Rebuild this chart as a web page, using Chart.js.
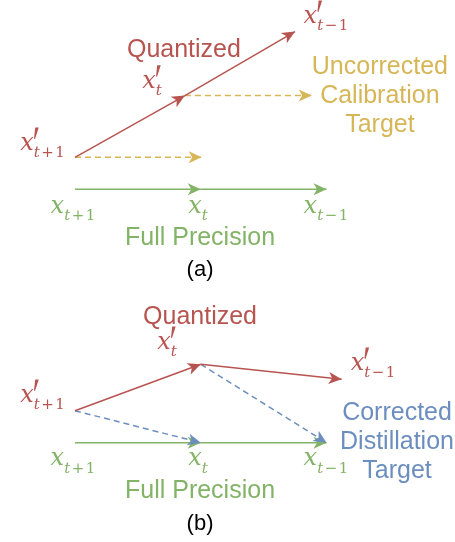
<!DOCTYPE html>
<html>
<head>
<meta charset="utf-8">
<script src="https://cdn.jsdelivr.net/npm/chart.js@4.4.0/dist/chart.umd.min.js"></script>
<style>
  body { margin: 0; background: #fff; }
  .panel { position: relative; width: 455px; }
  #wrap-a { height: 282px; }
  #wrap-b { height: 260px; }
</style>
</head>
<body>
<div class="panel" id="wrap-a"><canvas id="panel-a"></canvas></div>
<div class="panel" id="wrap-b"><canvas id="panel-b"></canvas></div>
<script>
// step positions: x_{t+1} = 0, x_t = 1, x_{t-1} = 2
var stepX = [0, 1, 2];
var fullY = [0, 0, 0];

// (a) quantized trajectory and uncorrected calibration targets
var aQuantX = [0, 0.874, 1.749];
var aQuantY = [1, 2.93, 4.93];
var aCalibEndX = [1.007, 1.882];

// (b) quantized trajectory, corrected targets point at the full precision steps
var bQuantX = [0, 1, 2.12];
var bQuantY = [1, 2.45, 1.98];
var bTargetStep = [1, 2];

var RED = '#b85450', GREEN = '#82b366', YELLOW = '#d6b656', BLUE = '#6c8ebf';
var SANS = '"Liberation Sans", Arial, sans-serif';
var SERIF = '"DejaVu Serif", serif';

function seg(x0, y0, x1, y1, color, dashed) {
  return {
    data: [{x: x0, y: y0}, {x: x1, y: y1}],
    showLine: true,
    borderColor: color,
    borderWidth: 1.5,
    borderDash: dashed ? [6, 4] : [],
    pointRadius: 0,
    clip: false,
    arrow: true
  };
}

function path(xs, ys, color) {
  var out = [];
  for (var i = 1; i < xs.length; i++) out.push(seg(xs[i - 1], ys[i - 1], xs[i], ys[i], color, false));
  return out;
}

var arrowPlugin = {
  id: 'arrows',
  afterDatasetsDraw: function (chart) {
    var ctx = chart.ctx;
    chart.data.datasets.forEach(function (ds, i) {
      if (!ds.arrow) return;
      var pts = chart.getDatasetMeta(i).data;
      var p0 = pts[pts.length - 2], p1 = pts[pts.length - 1];
      var ang = Math.atan2(p1.y - p0.y, p1.x - p0.x);
      ctx.save();
      ctx.translate(p1.x, p1.y);
      ctx.rotate(ang);
      ctx.beginPath();
      ctx.moveTo(0, 0);
      ctx.lineTo(-13, -6);
      ctx.lineTo(-9.5, 0);
      ctx.lineTo(-13, 6);
      ctx.closePath();
      ctx.fillStyle = ds.borderColor;
      ctx.fill();
      ctx.restore();
    });
  }
};

// x with optional prime and a subscript like t+1
function drawMath(ctx, lab, cx, by) {
  var baseFont = 'italic 24px ' + SERIF;
  var itFont = 'italic 15px ' + SERIF;
  var upFont = '15px ' + SERIF;
  ctx.font = baseFont;
  var xw = ctx.measureText('x').width;
  var toks = lab.sub.split('').map(function (c) {
    var op = c === '+' || c === '\u2212';
    ctx.font = (c === 't') ? itFont : upFont;
    return {c: c, font: ctx.font, w: ctx.measureText(c).width, pad: op ? 1.5 : 0};
  });
  var subW = toks.reduce(function (s, t) { return s + t.w + 2 * t.pad; }, 0);
  var x = cx - (xw + subW) / 2;
  ctx.fillStyle = lab.color;
  ctx.textBaseline = 'alphabetic';
  ctx.textAlign = 'left';
  ctx.font = baseFont;
  ctx.fillText('x', x, by);
  var sx = x + xw;
  if (lab.prime) {
    ctx.beginPath();
    ctx.moveTo(sx + 1.5, by - 22.5);
    ctx.lineTo(sx + 5, by - 22.5);
    ctx.lineTo(sx + 1.3, by - 11);
    ctx.lineTo(sx + 0.3, by - 11.5);
    ctx.closePath();
    ctx.fill();
  }
  toks.forEach(function (t) {
    ctx.font = t.font;
    ctx.fillText(t.c, sx + t.pad, by + 7.4);
    sx += t.w + 2 * t.pad;
  });
}

var labelPlugin = {
  id: 'diagramText',
  afterDraw: function (chart, args, opts) {
    var ctx = chart.ctx, xs = chart.scales.x, ys = chart.scales.y;
    ctx.save();
    (opts.items || []).forEach(function (lab) {
      var px = xs.getPixelForValue(lab.x), py = ys.getPixelForValue(lab.y);
      if (lab.sub !== undefined) { drawMath(ctx, lab, px, py); return; }
      ctx.font = (lab.size || 25) + 'px ' + SANS;
      ctx.fillStyle = lab.color;
      ctx.textAlign = 'center';
      ctx.textBaseline = 'alphabetic';
      lab.lines.forEach(function (line, k) { ctx.fillText(line, px, py + k * 29); });
    });
    ctx.restore();
  }
};

function makePanel(id, datasets, yMin, yMax, items) {
  return new Chart(document.getElementById(id), {
    type: 'scatter',
    data: {datasets: datasets},
    options: {
      animation: false,
      responsive: true,
      maintainAspectRatio: false,
      layout: {padding: 0},
      scales: {
        x: {type: 'linear', display: false, min: -0.596, max: 3.021},
        y: {type: 'linear', display: false, min: yMin, max: yMax}
      },
      plugins: {
        legend: {display: false},
        tooltip: {enabled: false},
        diagramText: {items: items}
      }
    },
    plugins: [arrowPlugin, labelPlugin]
  });
}

// panel (a)
var aSets = path(stepX, fullY, GREEN)
  .concat(path(aQuantX, aQuantY, RED))
  .concat(aCalibEndX.map(function (ex, i) { return seg(aQuantX[i], aQuantY[i], ex, aQuantY[i], YELLOW, true); }));

makePanel('panel-a', aSets, -2.897, 5.916, [
  {x: -0.258, y: 1.23, sub: 't+1', prime: true, color: RED},
  {x: 0.612, y: 3.17, sub: 't', prime: true, color: RED},
  {x: 1.995, y: 5.2, sub: 't\u22121', prime: true, color: RED},
  {x: -0.016, y: -0.74, sub: 't+1', color: GREEN},
  {x: 0.978, y: -0.74, sub: 't', color: GREEN},
  {x: 1.995, y: -0.74, sub: 't\u22121', color: GREEN},
  {x: 0.866, y: 4.13, lines: ['Quantized'], color: RED},
  {x: 0.994, y: -1.74, lines: ['Full Precision'], color: GREEN},
  {x: 2.424, y: 3.6, lines: ['Uncorrected', 'Calibration', 'Target'], color: YELLOW},
  {x: 0.994, y: -2.71, lines: ['(a)'], color: '#000', size: 22}
]);

// panel (b)
var bSets = path(stepX, fullY, GREEN)
  .concat(path(bQuantX, bQuantY, RED))
  .concat(bTargetStep.map(function (s, i) { return seg(bQuantX[i], bQuantY[i], stepX[s], fullY[s], BLUE, true); }));

makePanel('panel-b', bSets, -3.103, 5.022, [
  {x: -0.258, y: 1.27, sub: 't+1', prime: true, color: RED},
  {x: 0.731, y: 2.93, sub: 't', prime: true, color: RED},
  {x: 2.369, y: 2.27, sub: 't\u22121', prime: true, color: RED},
  {x: -0.016, y: -0.7, sub: 't+1', color: GREEN},
  {x: 0.978, y: -0.7, sub: 't', color: GREEN},
  {x: 1.995, y: -0.7, sub: 't\u22121', color: GREEN},
  {x: 0.994, y: 3.71, lines: ['Quantized'], color: RED},
  {x: 0.994, y: -1.73, lines: ['Full Precision'], color: GREEN},
  {x: 2.56, y: 0.71, lines: ['Corrected', 'Distillation', 'Target'], color: BLUE},
  {x: 0.994, y: -2.73, lines: ['(b)'], color: '#000', size: 22}
]);
</script>
</body>
</html>
